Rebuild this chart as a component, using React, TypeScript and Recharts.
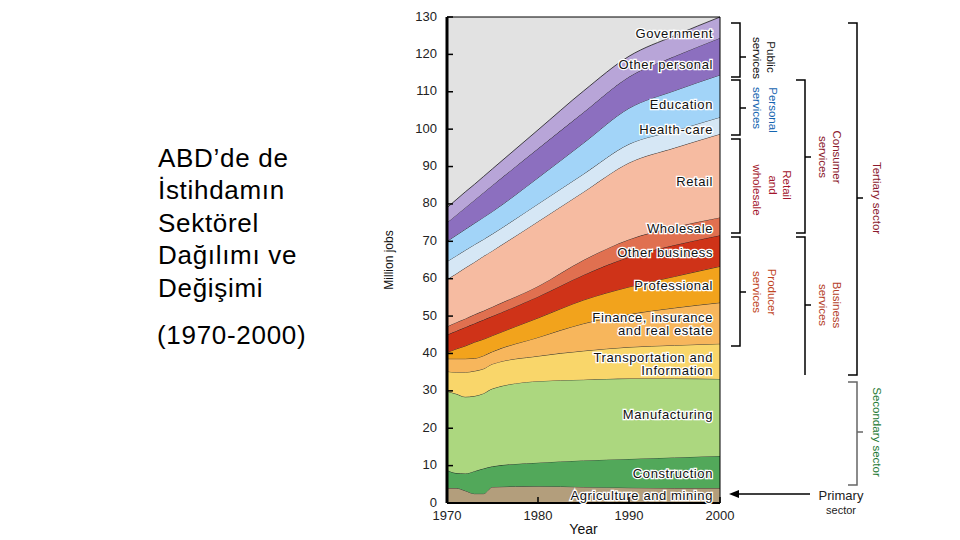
import React from 'react'
import { AreaChart, Area, XAxis, YAxis, CartesianGrid, ReferenceDot, ReferenceArea } from 'recharts'

const years = [1970, 1971, 1972, 1973, 1974, 1975, 1980, 1985, 1990, 1995, 2000]

// million jobs per sector, bottom of the stack first
const agriculture = [4.0, 4.0, 3.3, 2.5, 2.5, 4.3, 4.5, 4.3, 4.1, 4.0, 4.0]
const construction = [4.8, 4.0, 4.6, 6.0, 6.7, 5.5, 6.3, 7.1, 7.7, 8.2, 8.6]
const manufacturing = [21.1, 21.2, 20.5, 20.1, 20.1, 20.8, 21.8, 21.6, 21.5, 21.1, 20.6]
const transportation = [5.3, 5.8, 6.6, 6.7, 6.6, 6.6, 6.7, 7.7, 8.4, 8.9, 9.4]
const finance = [3.4, 3.6, 3.6, 3.4, 3.5, 3.3, 5.0, 7.3, 8.8, 10.0, 11.0]
const professional = [1.7, 2.6, 3.4, 4.3, 4.4, 4.3, 5.2, 6.3, 7.3, 8.4, 9.7]
const otherBusiness = [4.7, 4.8, 5.0, 5.0, 5.2, 5.2, 5.7, 6.7, 8.0, 8.4, 8.3]
const wholesale = [2.2, 2.3, 2.3, 2.4, 2.4, 2.5, 2.8, 4.0, 4.7, 4.8, 4.8]
const retail = [12.6, 13.0, 13.6, 14.0, 14.6, 15.0, 17.3, 18.2, 20.5, 21.2, 22.3]
const healthCare = [4.8, 4.8, 4.7, 4.7, 4.5, 4.5, 4.7, 4.8, 5.0, 4.6, 4.5]
const education = [5.4, 5.5, 5.6, 5.7, 5.9, 6.0, 7.0, 8.3, 9.6, 10.7, 11.3]
const otherPersonal = [5.0, 5.4, 5.8, 6.2, 6.6, 7.0, 7.8, 8.2, 8.4, 9.2, 9.9]
const government = [4.0, 4.1, 4.2, 4.2, 4.3, 4.4, 5.0, 5.7, 5.5, 5.5, 5.6]

const yTicks = [0, 10, 20, 30, 40, 50, 60, 70, 80, 90, 100, 110, 120, 130]
const xTicks = [1970, 1980, 1990, 2000]

const series = [
  { key: 'agriculture', values: agriculture, color: '#b39e7c' },
  { key: 'construction', values: construction, color: '#52a85a' },
  { key: 'manufacturing', values: manufacturing, color: '#acd77f' },
  { key: 'transportation', values: transportation, color: '#f9d66a' },
  { key: 'finance', values: finance, color: '#f7b65c' },
  { key: 'professional', values: professional, color: '#f2a31c' },
  { key: 'otherBusiness', values: otherBusiness, color: '#cf3318' },
  { key: 'wholesale', values: wholesale, color: '#e07050' },
  { key: 'retail', values: retail, color: '#f6bba1' },
  { key: 'healthCare', values: healthCare, color: '#d6e7f5' },
  { key: 'education', values: education, color: '#a2d4f8' },
  { key: 'otherPersonal', values: otherPersonal, color: '#8c6fbf' },
  { key: 'government', values: government, color: '#b8a5d8' },
]

// band names written at the right edge, at this height in million jobs
const bandLabels = [
  { text: 'Government', at: 125.7 },
  { text: 'Other personal', at: 117.4 },
  { text: 'Education', at: 106.7 },
  { text: 'Health-care', at: 100.0 },
  { text: 'Retail', at: 86.1 },
  { text: 'Wholesale', at: 73.3 },
  { text: 'Other business', at: 66.9 },
  { text: 'Professional', at: 58.1 },
  { text: 'Finance, insurance', at: 49.7 },
  { text: 'and real estate', at: 46.1 },
  { text: 'Transportation and', at: 39.0 },
  { text: 'Information', at: 35.4 },
  { text: 'Manufacturing', at: 23.8 },
  { text: 'Construction', at: 8.0 },
  { text: 'Agriculture and mining', at: 2.1 },
]

const titleLines = ['ABD’de de', 'İstihdamın', 'Sektörel', 'Dağılımı ve', 'Değişimi']

const data = years.map((year, i) => {
  const row: Record<string, number> = { year }
  series.forEach((s) => {
    row[s.key] = s.values[i]
  })
  return row
})

const FONT = '"Liberation Sans", Arial, sans-serif'

function YTick(props: any) {
  const { x, y, payload } = props
  return (
    <g>
      <line x1={x + 10} x2={x + 16} y1={y} y2={y} stroke="#000" strokeWidth={1.5} />
      <text x={x} y={y - 1} textAnchor="end" dominantBaseline="central" fontSize={13} fill="#222" fontFamily={FONT}>
        {payload.value}
      </text>
    </g>
  )
}

function XTick(props: any) {
  const { x, y, payload } = props
  return (
    <g>
      <line x1={x} x2={x} y1={y - 6} y2={y - 12} stroke="#000" strokeWidth={1.5} />
      <text x={x} y={y + 2} dy="0.72em" textAnchor="middle" fontSize={13} fill="#222" fontFamily={FONT}>
        {payload.value}
      </text>
    </g>
  )
}

const bandLabel = (text: string) => (props: any) => {
  const { viewBox } = props
  if (!viewBox) return null
  return (
    <text
      x={viewBox.x - 7}
      y={viewBox.y}
      textAnchor="end"
      dominantBaseline="central"
      fontSize={13}
      letterSpacing={0.6}
      fontFamily={FONT}
      fill="#111"
      stroke="#fff"
      strokeWidth={2.5}
      paintOrder="stroke"
    >
      {text}
    </text>
  )
}

function Bracket({ x, y1, y2, tick, color = '#000', bottomHook = true }: any) {
  return (
    <g stroke={color} strokeWidth={1.5} fill="none">
      <polyline points={`${x - 9},${y1} ${x},${y1} ${x},${y2}${bottomHook ? ` ${x - 9},${y2}` : ''}`} />
      {tick !== undefined && <line x1={x} x2={x + 6} y1={tick} y2={tick} />}
    </g>
  )
}

function VText({ x, y, color, children, size = 11.5 }: any) {
  return (
    <text
      x={x}
      y={y}
      transform={`rotate(90 ${x} ${y})`}
      textAnchor="middle"
      dominantBaseline="central"
      fontSize={size}
      fontFamily={FONT}
      fill={color}
    >
      {children}
    </text>
  )
}

function Annotations() {
  return (
    <svg width={960} height={540} style={{ position: 'absolute', left: 0, top: 0, pointerEvents: 'none' }}>
      {/* title on the left */}
      {titleLines.map((line, i) => (
        <text key={line} x={158} y={166.5 + i * 32.5} fontSize={26} letterSpacing={0.7} fontFamily={FONT} fill="#000">
          {line}
        </text>
      ))}
      <text x={157} y={344} fontSize={26} letterSpacing={0.7} fontFamily={FONT} fill="#000">
        (1970-2000)
      </text>

      {/* first column */}
      <Bracket x={740} y1={23} y2={77} tick={57} />
      <Bracket x={740} y1={80} y2={135} tick={108} />
      <Bracket x={740} y1={139} y2={233} />
      <Bracket x={740} y1={237} y2={346} tick={292} />
      <VText x={771} y={57} color="#111">Public</VText>
      <VText x={757} y={58} color="#111">services</VText>
      <VText x={773} y={110} color="#1565b0">Personal</VText>
      <VText x={757} y={108} color="#1565b0">services</VText>
      <VText x={787} y={185} color="#a3162c">Retail</VText>
      <VText x={773} y={185} color="#a3162c">and</VText>
      <VText x={757} y={190} color="#a3162c">wholesale</VText>
      <VText x={772} y={292} color="#c0441e">Producer</VText>
      <VText x={757} y={292} color="#c0441e">services</VText>

      {/* second column */}
      <Bracket x={805} y1={80} y2={233} tick={157} />
      <Bracket x={805} y1={237} y2={375} tick={305} bottomHook={false} />
      <VText x={837} y={157} color="#8b1a2e">Consumer</VText>
      <VText x={823} y={157} color="#8b1a2e">services</VText>
      <VText x={837} y={305} color="#b5412a">Business</VText>
      <VText x={823} y={305} color="#b5412a">services</VText>

      {/* third column */}
      <Bracket x={857} y1={23} y2={375} tick={198} />
      <Bracket x={857} y1={382} y2={485} tick={432} color="#666" />
      <VText x={877} y={198} color="#8b1a2e">Tertiary sector</VText>
      <VText x={877} y={432} color="#1e7a34">Secondary sector</VText>

      {/* primary sector arrow */}
      <line x1={810} x2={736} y1={494} y2={494} stroke="#000" strokeWidth={1.5} />
      <polygon points="729,494 739,490 739,498" fill="#000" />
      <text x={841} y={500} textAnchor="middle" fontSize={13} fontFamily={FONT} fill="#222">
        Primary
      </text>
      <text x={841} y={514} textAnchor="middle" fontSize={11} fontFamily={FONT} fill="#222">
        sector
      </text>
    </svg>
  )
}

export default function App() {
  return (
    <div style={{ position: 'absolute', left: 0, top: 0, width: 960, height: 540, background: '#fff', fontFamily: FONT }}>
      <AreaChart width={960} height={540} data={data} margin={{ top: 17, right: 240, bottom: 7, left: 387 }}>
        <CartesianGrid fill="#e2e2e2" horizontal={false} vertical={false} />
        <XAxis
          type="number"
          dataKey="year"
          domain={[1970, 2000]}
          ticks={xTicks}
          height={30}
          tickSize={0}
          tickMargin={6}
          tickLine={false}
          tick={<XTick />}
          axisLine={{ stroke: '#000', strokeWidth: 2 }}
          label={{ value: 'Year', position: 'insideBottom', offset: -1, fontSize: 14, fill: '#111', fontFamily: FONT }}
        />
        <YAxis
          type="number"
          domain={[0, 130]}
          ticks={yTicks}
          width={60}
          tickSize={0}
          tickMargin={10}
          tickLine={false}
          tick={<YTick />}
          axisLine={{ stroke: '#000', strokeWidth: 3 }}
          label={{
            value: 'Million jobs',
            angle: -90,
            position: 'insideLeft',
            offset: 2,
            fontSize: 12,
            fill: '#111',
            fontFamily: FONT,
            style: { textAnchor: 'middle' },
          }}
        />
        {series.map((s) => (
          <Area
            key={s.key}
            type="monotone"
            dataKey={s.key}
            stackId="jobs"
            fill={s.color}
            fillOpacity={1}
            stroke="#1a1a1a"
            strokeWidth={0.8}
            isAnimationActive={false}
          />
        ))}
        <ReferenceArea x1={1970} x2={2000} y1={0} y2={130} fill="none" stroke="#000" strokeWidth={1} />
        {bandLabels.map((l) => (
          <ReferenceDot
            key={l.text}
            x={2000}
            y={l.at}
            r={0}
            fill="none"
            stroke="none"
            label={{ content: bandLabel(l.text) }}
          />
        ))}
      </AreaChart>
      <Annotations />
    </div>
  )
}
